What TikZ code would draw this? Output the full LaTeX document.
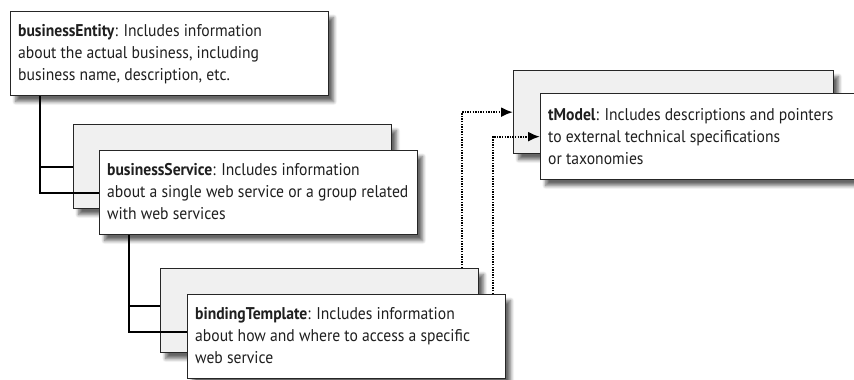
\documentclass[tikz,border=0pt]{standalone}
\usepackage{fontspec}
\setmainfont{PT Sans}[FakeStretch=0.92]
\usetikzlibrary{calc,shadows.blur,arrows.meta}
\begin{document}
\begin{tikzpicture}[x=1pt,y=-1pt,
  boxshadow/.style={blur shadow={shadow xshift=5pt,shadow yshift=-6pt,shadow blur steps=6,shadow blur radius=3.5pt,shadow opacity=60}},
  frontbox/.style={draw=black!85,line width=1.3pt,fill=white,minimum width=318pt,minimum height=84pt,anchor=north west,inner sep=0pt,boxshadow},
  backbox/.style={frontbox,fill=black!6},
  txt/.style={anchor=north west,inner sep=0pt,align=left,font=\fontsize{17}{22}\selectfont,text=black!88},
  conn/.style={line width=2pt,black},
  dots/.style={line width=2pt,black,dash pattern=on 1.4pt off 1.2pt,-{Latex[length=12pt,width=10pt]}}
]
\useasboundingbox (0,0) rectangle (854,380);
% boxes
\node[frontbox] (be) at (10,11) {};
\node[backbox] (bsb) at (73,124) {};
\node[frontbox] (bsf) at (99,150) {};
\node[backbox] (btb) at (160,268) {};
\node[frontbox] (btf) at (187,294) {};
\node[backbox,minimum width=320pt,minimum height=83pt] (tmb) at (513,70) {};
\node[frontbox,minimum width=340pt,minimum height=86pt] (tmf) at (540,93) {};
% texts
\node[txt] (bet) at ($(be.north west)+(8,13)$) {\textbf{businessEntity}: Includes information\\about the actual business, including\\business name, description, etc.};
\node[txt] (bst) at ($(bsf.north west)+(8,13)$) {\textbf{businessService}: Includes information\\about a single web service or a group related\\with web services};
\node[txt] (btt) at ($(btf.north west)+(8,13)$) {\textbf{bindingTemplate}: Includes information\\about how and where to access a specific\\web service};
\node[txt] (tmt) at ($(tmf.north west)+(8,15)$) {\textbf{tModel}: Includes descriptions and pointers\\to external technical specifications\\or taxonomies};
% tree connectors
\coordinate (c1) at ($(be.south west)+(30,0)$);
\draw[conn] (c1) |- (bsb.west);
\draw[conn] (c1) |- (bsf.west);
\coordinate (c2) at ($(bsf.south west)+(30,0)$);
\draw[conn] (c2) |- ($(btb.west)+(0,-5)$);
\draw[conn] (c2) |- ($(btf.west)+(0,-5)$);
% dotted pointers
\draw[dots] ($(btb.north west)+(302,0)$) |- (tmb.west);
\draw[dots] ($(btf.north west)+(306,0)$) |- (tmf.west);
\end{tikzpicture}
\end{document}
